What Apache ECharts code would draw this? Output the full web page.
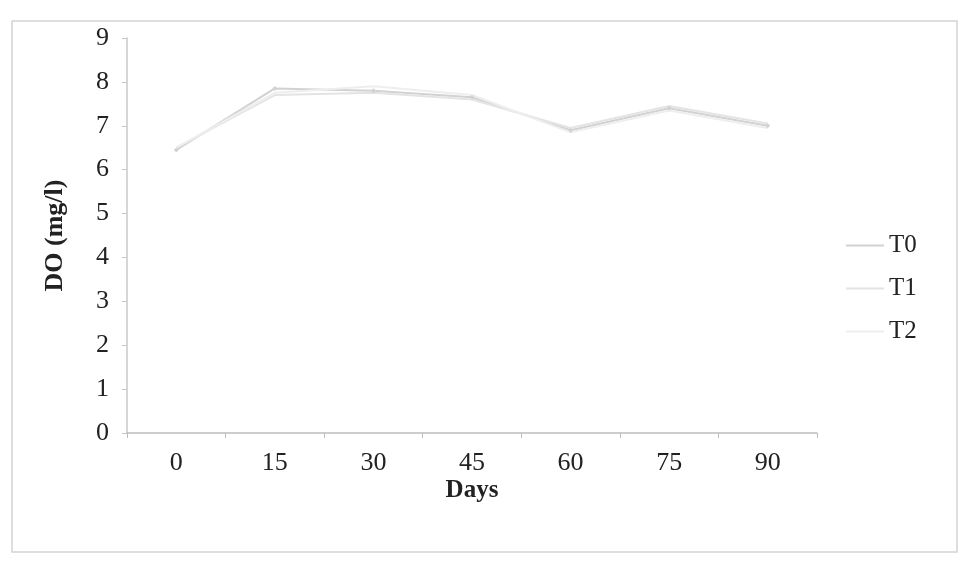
<!DOCTYPE html>
<html>
<head>
<meta charset="utf-8">
<script src="https://cdn.jsdelivr.net/npm/echarts@6/dist/echarts.min.js"></script>
<style>
  html, body { margin: 0; padding: 0; background: #fff; }
  #chart { width: 965px; height: 561px; }
</style>
</head>
<body>
<div id="chart"></div>
<script>
// Dissolved oxygen over the trial period, per treatment
const days = ['0', '15', '30', '45', '60', '75', '90'];
const t0 = [6.45, 7.85, 7.8, 7.65, 6.9, 7.4, 7.0];
const t1 = [6.5, 7.7, 7.75, 7.6, 6.95, 7.45, 7.05];
const t2 = [6.5, 7.75, 7.9, 7.7, 6.85, 7.35, 6.95];
const yTicks = [0, 1, 2, 3, 4, 5, 6, 7, 8, 9];

const serif = 'Liberation Serif';
const chart = echarts.init(document.getElementById('chart'));

function line(name, data, color, symbol) {
  return {
    name: name,
    type: 'line',
    data: data,
    symbol: symbol,
    symbolSize: 5,
    itemStyle: { color: color },
    lineStyle: { color: color, width: 2 },
    emphasis: { disabled: true }
  };
}

chart.setOption({
  animation: false,
  backgroundColor: '#fff',
  graphic: [{
    type: 'rect',
    shape: { x: 12, y: 21, width: 945, height: 531 },
    style: { fill: 'none', stroke: '#d4d4d4', lineWidth: 1.5 }
  }],
  grid: { left: 127, top: 38, width: 690, height: 395 },
  legend: {
    orient: 'vertical',
    left: 841,
    top: 228,
    itemGap: 18,
    itemWidth: 38,
    itemHeight: 2,
    icon: 'rect',
    textStyle: { fontFamily: serif, fontSize: 25, color: '#222', padding: [0, 0, 0, 0] },
    data: ['T0', 'T1', 'T2']
  },
  xAxis: {
    type: 'category',
    data: days,
    boundaryGap: true,
    name: 'Days',
    nameLocation: 'middle',
    nameGap: 45,
    nameMoveOverlap: false,
    nameTextStyle: { fontFamily: serif, fontSize: 25, fontWeight: 'bold', color: '#222' },
    axisLine: { lineStyle: { color: '#bdbdbd', width: 1.5 } },
    axisTick: { show: true, alignWithLabel: false, length: 5, lineStyle: { color: '#bdbdbd' } },
    axisLabel: { fontFamily: serif, fontSize: 26, color: '#222', margin: 17 }
  },
  yAxis: {
    type: 'value',
    min: yTicks[0],
    max: yTicks[yTicks.length - 1],
    interval: 1,
    name: 'DO (mg/l)',
    nameLocation: 'middle',
    nameGap: 59,
    nameMoveOverlap: false,
    nameTextStyle: { fontFamily: serif, fontSize: 26, fontWeight: 'bold', color: '#222' },
    axisLine: { show: true, lineStyle: { color: '#c8c8c8', width: 1.5 } },
    axisTick: { show: true, length: 5, lineStyle: { color: '#c8c8c8' } },
    splitLine: { show: false },
    axisLabel: { fontFamily: serif, fontSize: 26, color: '#222', margin: 18 }
  },
  series: [
    line('T0', t0, '#d2d2d2', 'diamond'),
    line('T1', t1, '#e4e4e4', 'none'),
    line('T2', t2, '#eeeeee', 'none')
  ]
});
</script>
</body>
</html>
